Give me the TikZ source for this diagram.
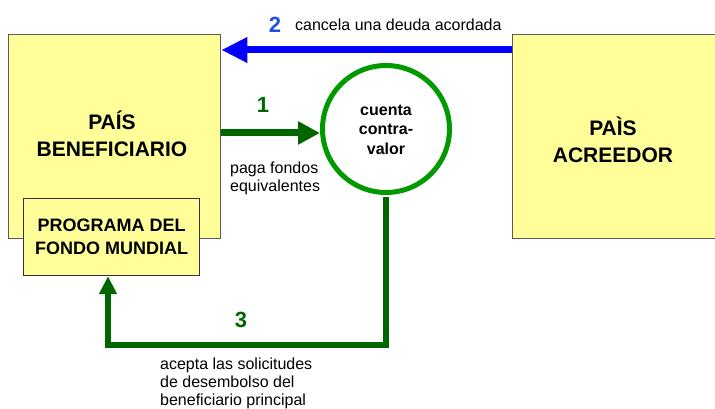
\documentclass[tikz,border=0pt]{standalone}
\usepackage{fontspec}
\setmainfont{Liberation Sans}
\usetikzlibrary{arrows.meta,positioning,calc}
\definecolor{boxyellow}{HTML}{FFFF99}
\definecolor{boxedge}{HTML}{5A5A5A}
\definecolor{darkgreen}{HTML}{006600}
\definecolor{ringgreen}{HTML}{009900}
\definecolor{pureblue}{HTML}{0000FF}
\definecolor{numblue}{HTML}{1F50DC}
\begin{document}
\begin{tikzpicture}[x=1pt,y=-1pt,
  country/.style={draw=boxedge,line width=1.3pt,fill=boxyellow,inner sep=0pt},
  bigtext/.style={font=\fontsize{21}{27}\selectfont\bfseries,align=center},
  progbox/.style={draw=black!80,line width=1.2pt,fill=boxyellow,minimum width=176pt,minimum height=77pt,inner sep=0pt,font=\fontsize{18}{23}\selectfont\bfseries,align=center},
  ring/.style={circle,draw=ringgreen,line width=5pt,minimum size=127pt,inner sep=0pt},
  ringtext/.style={font=\fontsize{16}{19.5}\selectfont\bfseries,align=center,inner sep=0pt},
  small/.style={font=\fontsize{16}{18}\selectfont,inner sep=0pt,align=left},
  num/.style={font=\fontsize{22}{24}\selectfont\bfseries,inner sep=0pt},
  greenarrow/.style={draw=darkgreen,line width=7pt,-{Triangle[length=22pt,width=22pt]}},
  bluearrow/.style={draw=pureblue,line width=7pt,-{Triangle[length=26pt,width=24pt]}},
  greenpath/.style={draw=darkgreen,line width=6pt,-{Triangle[length=18pt,width=17pt]}}
]
\useasboundingbox (0,0) rectangle (715,409);
\fill[white] (0,0) rectangle (715,409);

% boxes
\node[country,minimum width=212pt,minimum height=204pt,anchor=north west] (benef) at (8,34) {};
\node[bigtext,anchor=base] (benefname) at (112,157) {PAÍS\\BENEFICIARIO};
\node[country,minimum width=260pt,minimum height=204pt,anchor=north west] (acree) at (512,34) {};
\node[bigtext,anchor=base] (acreename) at (613,163) {PAÌS\\ACREEDOR};
\node[progbox,anchor=north west] (prog) at (23,198) {PROGRAMA DEL\\FONDO MUNDIAL};

% circle
\node[ring] (cuenta) at (386,129) {};
\node[ringtext,anchor=base] (cuentatext) at (386,154) {cuenta\\contra-\\valor};

% arrows
\draw[bluearrow] (acree.west |- 0,50) -- (benef.east |- 0,50);
\draw[greenarrow] (benef.east |- 0,133) -- (cuenta.west |- 0,133);
\coordinate (turn) at (108,345);
\draw[greenpath] ([yshift=-2pt]cuenta.south) |- (turn) -- (turn |- prog.south);

% labels
\node[num,text=numblue,anchor=base] (n2) at (275,33) {2};
\node[small,anchor=base west] (l2) at (295,31) {cancela una deuda acordada};
\node[num,text=darkgreen,anchor=base] (n1) at (263,113) {1};
\node[small,anchor=north west] (l1) at (230,162) {paga fondos\\equivalentes};
\node[num,text=darkgreen,anchor=base] (n3) at (241,327) {3};
\node[small,anchor=north west] (l3) at (160,358) {acepta las solicitudes\\de desembolso del\\beneficiario principal};
\end{tikzpicture}
\end{document}
